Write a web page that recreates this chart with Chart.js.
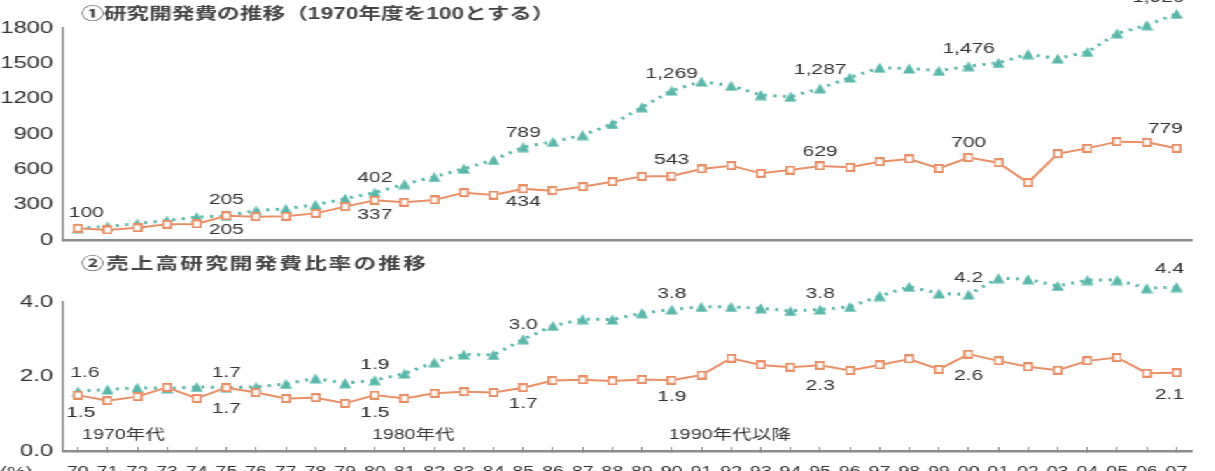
<!DOCTYPE html>
<html>
<head>
<meta charset="utf-8">
<script src="https://cdn.jsdelivr.net/npm/chart.js@4.4.0/dist/chart.umd.min.js"></script>
<style>
html,body{margin:0;padding:0;background:#fff;overflow:hidden;}
#wrap{position:relative;width:868px;height:471px;transform:scaleX(1.4);transform-origin:0 0;}
#top{position:absolute;left:0;top:0;width:868px;height:250px;}
#bot{position:absolute;left:0;top:250px;width:868px;height:221px;}
</style>
</head>
<body>
<div id="wrap">
  <canvas id="top" width="868" height="250"></canvas>
  <canvas id="bot" width="868" height="221"></canvas>
</div>
<script>
// 年度（x軸）
const years = ['70','71','72','73','74','75','76','77','78','79','80','81','82','83','84','85','86','87','88','89',
  '90','91','92','93','94','95','96','97','98','99','00','01','02','03','04','05','06','07'];

// ① 研究開発費の推移（1970年度=100）
const rdIndexTeal = [100,115,140,165,195,205,250,265,300,350,402,475,535,605,680,789,834,891,985,1127,
  1269,1346,1310,1231,1217,1287,1380,1462,1457,1437,1476,1504,1578,1541,1597,1754,1824,1920];
const rdIndexOrange = [100,85,104,133,136,205,198,202,226,283,337,320,340,402,382,434,419,453,495,540,
  543,603,631,566,594,629,617,665,688,608,700,656,487,733,778,835,829,779];

// ② 売上高研究開発費比率の推移（%）
const rdRatioTeal = [1.6,1.65,1.7,1.68,1.72,1.7,1.72,1.8,1.95,1.82,1.9,2.08,2.38,2.59,2.58,3.0,3.36,3.54,3.53,3.7,
  3.8,3.87,3.87,3.83,3.76,3.8,3.87,4.16,4.41,4.23,4.2,4.64,4.61,4.43,4.59,4.59,4.37,4.4];
const rdRatioOrange = [1.5,1.35,1.46,1.71,1.41,1.7,1.57,1.41,1.43,1.28,1.5,1.41,1.55,1.59,1.57,1.7,1.89,1.91,1.88,1.92,
  1.9,2.04,2.49,2.31,2.25,2.3,2.16,2.31,2.47,2.19,2.6,2.42,2.26,2.17,2.42,2.51,2.09,2.1];

const topTicks = [0,300,600,900,1200,1500,1800];
const botTicks = [0,2,4];
const eras = [{i:0,text:'1970年代'},{i:10,text:'1980年代'},{i:20,text:'1990年代以降'}];

const TEAL = '#5ab7aa', ORANGE = '#e98f66', AXIS = '#8c8c8c', TXT = '#333333';
const FONT = "'Liberation Sans','Noto Sans CJK JP',sans-serif";

function triImg() {
  const c = document.createElement('canvas'); c.width = 9; c.height = 11;
  const g = c.getContext('2d');
  g.fillStyle = TEAL; g.beginPath();
  g.moveTo(4.5,0.5); g.lineTo(8.9,10.4); g.lineTo(0.1,10.4); g.closePath(); g.fill();
  return c;
}
function sqImg() {
  const c = document.createElement('canvas'); c.width = 7; c.height = 9;
  const g = c.getContext('2d');
  g.fillStyle = ORANGE; g.fillRect(0,0,7,9);
  g.fillStyle = '#fff'; g.fillRect(1.5,2,4,5);
  return c;
}
const TRI = triImg(), SQ = sqImg();

// ラベル位置（ds 0 = orange, 1 = teal）
const topLabels = [
  {ds:1,i:0,dy:-15,dx:6},{ds:1,i:5,dy:-16},{ds:1,i:10,dy:-15},{ds:1,i:15,dy:-14},{ds:1,i:20,dy:-17},
  {ds:1,i:25,dy:-19},{ds:1,i:30,dy:-17},{ds:1,i:37,dy:-16,dx:-13},
  {ds:0,i:5,dy:14},{ds:0,i:10,dy:15},{ds:0,i:15,dy:13},{ds:0,i:20,dy:-16},{ds:0,i:25,dy:-14},
  {ds:0,i:30,dy:-15},{ds:0,i:37,dy:-19,dx:-8}
];
const botLabels = [
  {ds:1,i:0,dy:-19,dx:5},{ds:1,i:5,dy:-15},{ds:1,i:10,dy:-15},{ds:1,i:15,dy:-14},{ds:1,i:20,dy:-16},
  {ds:1,i:25,dy:-16},{ds:1,i:30,dy:-17},{ds:1,i:37,dy:-18,dx:-5},
  {ds:0,i:0,dy:18,dx:2},{ds:0,i:5,dy:21},{ds:0,i:10,dy:18},{ds:0,i:15,dy:16},{ds:0,i:20,dy:17},
  {ds:0,i:25,dy:21},{ds:0,i:30,dy:22},{ds:0,i:37,dy:22,dx:-5}
];

function notes(cfg) {
  return {
    id: 'notes',
    afterDraw(chart) {
      const ctx = chart.ctx;
      ctx.save();
      ctx.fillStyle = '#454545';
      ctx.textAlign = 'left'; ctx.textBaseline = 'middle';
      ctx.font = 'bold 16.2px ' + FONT;
      if (cfg.spacing) ctx.letterSpacing = cfg.spacing;
      ctx.fillText(cfg.title, 58, 15);
      ctx.letterSpacing = '0px';
      ctx.fillStyle = TXT;
      ctx.textAlign = 'center';
      ctx.font = '15px ' + FONT;
      cfg.labels.forEach(l => {
        const pt = chart.getDatasetMeta(l.ds).data[l.i];
        const v = chart.data.datasets[l.ds].data[l.i];
        ctx.fillText(cfg.fmt(v), pt.x + (l.dx || 0), pt.y + l.dy);
      });
      if (cfg.eras) {
        const xs = chart.scales.x;
        ctx.textAlign = 'left';
        ctx.font = '14px ' + FONT;
        cfg.eras.forEach(e => ctx.fillText(e.text, xs.getPixelForValue(e.i) - 2 + (e.i === 0 ? 5 : 0), chart.chartArea.bottom - 16));
        ctx.textBaseline = 'top';
        ctx.font = '15px ' + FONT;
        ctx.fillText('(%)', 0, chart.chartArea.bottom + 14);
      }
      ctx.restore();
    }
  };
}

function makeChart(id, o) {
  return new Chart(document.getElementById(id), {
    type: 'line',
    data: {
      labels: years,
      datasets: [
        { label: '系列B', data: o.orange, borderColor: ORANGE, borderWidth: 2, pointStyle: SQ,
          pointRadius: o.hitR, tension: 0, clip: false, fill: false },
        { label: '系列A', data: o.teal, borderColor: TEAL, borderWidth: 3, borderDash: [2.2, 4.6],
          pointStyle: TRI, pointRadius: o.hitR, tension: 0, clip: false, fill: false }
      ]
    },
    options: {
      responsive: false,
      animation: false,
      events: [],
      layout: { autoPadding: false, padding: { top: o.padTop, right: 17, left: 0, bottom: 0 } },
      plugins: { legend: { display: false }, tooltip: { enabled: false }, title: { display: false } },
      scales: {
        x: {
          type: 'category', offset: true,
          grid: o.xTicks ? { display: true, drawOnChartArea: false, drawTicks: true, tickLength: -4, color: AXIS, lineWidth: 1 }
                         : { display: false, drawTicks: false },
          border: { display: true, color: AXIS, width: 2.5 },
          ticks: { display: !!o.xTicks, autoSkip: false, maxRotation: 0, minRotation: 0, padding: 17,
                   color: TXT, font: { family: FONT, size: 14 } },
          afterFit: s => { s.height = o.xH; s.paddingLeft = 0; s.paddingRight = 0; }
        },
        y: {
          min: o.ticks[0], max: o.ticks[o.ticks.length - 1],
          afterBuildTicks: s => { s.ticks = o.ticks.map(v => ({ value: v })); },
          grid: { display: false, drawTicks: false },
          border: { display: true, color: AXIS, width: 1.6 },
          ticks: { padding: 7, color: TXT, font: { family: FONT, size: 17 }, callback: o.tickFmt },
          afterFit: s => { s.width = 45; s.paddingTop = 0; s.paddingBottom = 0; }
        }
      }
    },
    plugins: [notes(o.notes)]
  });
}

makeChart('top', {
  orange: rdIndexOrange, teal: rdIndexTeal, ticks: topTicks, padTop: 28, xH: 10, xTicks: false, hitR: 16,
  tickFmt: v => String(v),
  notes: { title: '①研究開発費の推移（1970年度を100とする）', labels: topLabels, fmt: v => v.toLocaleString('en-US') }
});

makeChart('bot', {
  orange: rdRatioOrange, teal: rdRatioTeal, ticks: botTicks, padTop: 52, xH: 20, xTicks: true, hitR: 26,
  tickFmt: v => Number(v).toFixed(1),
  notes: { title: '②売上高研究開発費比率の推移', spacing: '1.5px', labels: botLabels, fmt: v => v.toFixed(1), eras: eras }
});
</script>
</body>
</html>
